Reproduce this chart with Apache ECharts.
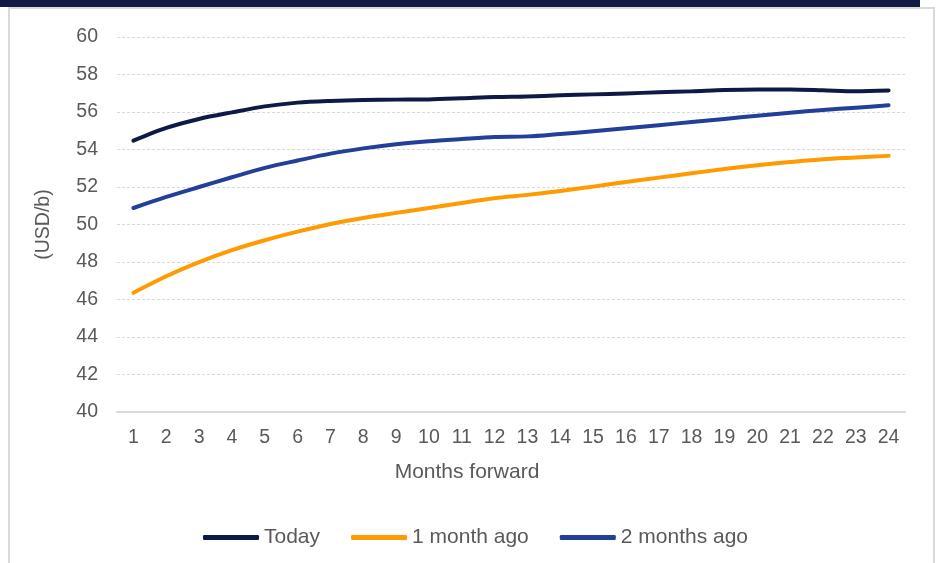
<!DOCTYPE html>
<html>
<head>
<meta charset="utf-8">
<script src="https://cdn.jsdelivr.net/npm/echarts@6/dist/echarts.min.js"></script>
<style>
  html, body { margin: 0; padding: 0; background: #fff; }
  #chart { width: 937px; height: 563px; }
</style>
</head>
<body>
<div id="chart"></div>
<script>
// months forward
const months = ['1', '2', '3', '4', '5', '6', '7', '8', '9', '10', '11', '12',
    '13', '14', '15', '16', '17', '18', '19', '20', '21', '22', '23', '24'];

// forward curves (USD/b)
const today = [54.47, 55.15, 55.63, 55.98, 56.30, 56.50, 56.59, 56.64, 56.66, 56.67, 56.73, 56.80,
    56.83, 56.89, 56.94, 56.99, 57.05, 57.10, 57.17, 57.20, 57.20, 57.16, 57.11, 57.15];
const oneMonthAgo = [46.36, 47.24, 47.99, 48.63, 49.16, 49.62, 50.03, 50.35, 50.62, 50.88, 51.15, 51.40,
    51.58, 51.79, 52.02, 52.27, 52.50, 52.73, 52.96, 53.16, 53.33, 53.48, 53.57, 53.66];
const twoMonthsAgo = [50.88, 51.47, 52.00, 52.52, 53.02, 53.41, 53.78, 54.06, 54.28, 54.44, 54.56, 54.67,
    54.70, 54.83, 54.97, 55.13, 55.29, 55.47, 55.63, 55.80, 55.96, 56.11, 56.23, 56.36];

const seriesNames = ['Today', '1 month ago', '2 months ago'];
const seriesColors = ['#0e1a45', '#ff9a00', '#233f99'];

const textColor = '#595959';
const fontFamily = '"Liberation Sans", Arial, sans-serif';
const tickSize = 19.5;
const titleSize = 21;

const chart = echarts.init(document.getElementById('chart'));

function lineSeries(name, data, color) {
    return {
        name: name,
        type: 'line',
        data: data,
        smooth: 0.3,
        symbol: 'none',
        lineStyle: { color: color, width: 4, cap: 'round', join: 'round' },
        itemStyle: { color: color }
    };
}

const option = {
    animation: false,
    backgroundColor: '#fff',
    textStyle: { fontFamily: fontFamily },
    graphic: [
        // top navy band
        { type: 'rect', shape: { x: 0, y: 0, width: 920, height: 7 }, style: { fill: '#111a43' } },
        // panel frame
        { type: 'rect', shape: { x: 9, y: 8, width: 925, height: 570 },
          style: { fill: 'none', stroke: '#d9d9d9', lineWidth: 2 } }
    ],
    grid: { left: 117, right: 32, top: 37, bottom: 151 },
    legend: {
        data: seriesNames,
        top: 522,
        left: 198,
        itemWidth: 56,
        itemHeight: 5,
        itemGap: 31,
        icon: 'roundRect',
        textStyle: { color: textColor, fontSize: titleSize, fontFamily: fontFamily }
    },
    xAxis: {
        type: 'category',
        data: months,
        boundaryGap: true,
        name: 'Months forward',
        nameLocation: 'middle',
        nameGap: 50,
        nameTextStyle: { color: textColor, fontSize: titleSize, padding: [0, 88, 0, 0] },
        axisLine: { lineStyle: { color: '#d9d9d9', width: 2 } },
        axisTick: { show: false },
        axisLabel: { color: textColor, fontSize: tickSize, margin: 16, interval: 0 }
    },
    yAxis: {
        type: 'value',
        min: 40,
        max: 60,
        interval: 2,
        name: '(USD/b)',
        nameLocation: 'middle',
        nameGap: 63,
        nameTextStyle: { color: textColor, fontSize: tickSize },
        axisLine: { show: false },
        axisTick: { show: false },
        axisLabel: { color: textColor, fontSize: tickSize, margin: 19 },
        splitLine: { lineStyle: { color: '#d9d9d9', type: [3, 2], width: 1 } }
    },
    series: [
        lineSeries(seriesNames[0], today, seriesColors[0]),
        lineSeries(seriesNames[1], oneMonthAgo, seriesColors[1]),
        lineSeries(seriesNames[2], twoMonthsAgo, seriesColors[2])
    ]
};

chart.setOption(option);
</script>
</body>
</html>
